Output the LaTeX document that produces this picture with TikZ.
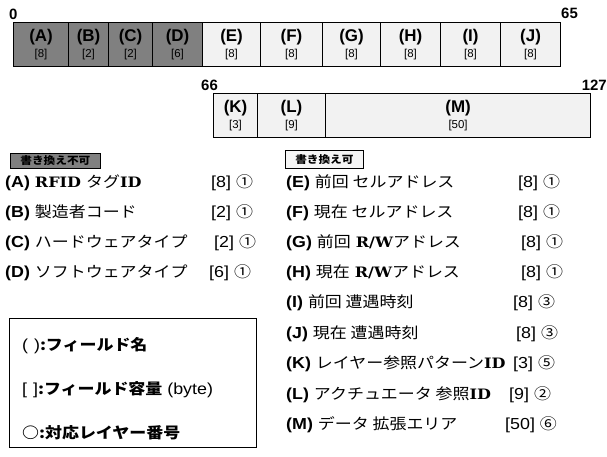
\documentclass[tikz,border=0pt]{standalone}
\usepackage{fontspec}
\usepackage{graphicx}
\setmainfont{Liberation Sans}
\newfontfamily\jpf{Noto Sans CJK JP}[Scale=0.95]
\newfontfamily\srff{DejaVu Serif}[Scale=0.9]
\newcommand\fld[1]{{\bfseries #1}}
\newcommand\rmb[1]{{\srff\bfseries #1}}
\newcommand\hs[1]{\scalebox{1.12}[1]{#1}}
\tikzset{
  cellbox/.style={draw=black, line width=1.1bp, anchor=north west, inner sep=0pt, align=center, minimum height=44bp},
  darkcell/.style={cellbox, fill=black!50},
  lightcell/.style={cellbox, fill=black!5},
  numlab/.style={font=\fontsize{15}{15}\selectfont\bfseries, inner sep=0pt},
  rowtxt/.style={anchor=west, inner sep=0pt, font=\fontsize{16}{18}\selectfont},
  valtxt/.style={anchor=west, inner sep=0pt, font=\fontsize{16}{18}\selectfont},
  legtxt/.style={anchor=west, inner sep=0pt, font=\fontsize{16}{18}\selectfont},
  tagbox/.style={draw=black, line width=0.8bp, inner sep=0pt, anchor=north west, font=\fontsize{11}{11}\selectfont\jpf\bfseries}
}
\newcommand\celltxt[2]{{\fontsize{17}{17}\selectfont\bfseries #1}\\[4bp]{\fontsize{11.5}{12}\selectfont #2}}
\begin{document}
\begin{tikzpicture}[x=1bp,y=-1bp]
\useasboundingbox (0,0) rectangle (607,457);
% top row
\node[darkcell, minimum width=55bp] (cA) at (13,22) {\celltxt{(A)}{[8]}};
\node[darkcell, minimum width=40bp] (cB) at (68,22) {\celltxt{(B)}{[2]}};
\node[darkcell, minimum width=44bp] (cC) at (108,22) {\celltxt{(C)}{[2]}};
\node[darkcell, minimum width=50bp] (cD) at (152,22) {\celltxt{(D)}{[6]}};
\node[lightcell, minimum width=58bp] (cE) at (202,22) {\celltxt{(E)}{[8]}};
\node[lightcell, minimum width=62bp] (cF) at (260,22) {\celltxt{(F)}{[8]}};
\node[lightcell, minimum width=58bp] (cG) at (322,22) {\celltxt{(G)}{[8]}};
\node[lightcell, minimum width=60bp] (cH) at (380,22) {\celltxt{(H)}{[8]}};
\node[lightcell, minimum width=60bp] (cI) at (440,22) {\celltxt{(I)}{[8]}};
\node[lightcell, minimum width=60bp] (cJ) at (500,22) {\celltxt{(J)}{[8]}};
\node[numlab, anchor=south west] (n0) at (9,20) {0};
\node[numlab, anchor=south west] (n65) at (561,19) {65};
% second row
\node[lightcell, minimum width=44bp] (cK) at (213,93) {\celltxt{(K)}{[3]}};
\node[lightcell, minimum width=68bp] (cL) at (257,93) {\celltxt{(L)}{[9]}};
\node[lightcell, minimum width=265bp] (cM) at (325,93) {\celltxt{(M)}{[50]}};
\node[numlab, anchor=south west] (n66) at (201,91) {66};
\node[numlab, anchor=south east] (n127) at (607,91) {127};
% tag boxes
\node[tagbox, fill=black!50, minimum width=90bp, minimum height=15bp] (tagno) at (10,153) {\hs{書き換え不可}};
\node[tagbox, fill=black!4, minimum width=78bp, minimum height=18bp] (tagyes) at (285,150) {\hs{書き換え可}};
% left list
\node[rowtxt] (tA) at (5,183) {\hs{\fld{(A)} \rmb{RFID} {\jpf タグ}\rmb{ID}}};
\node[rowtxt] (tB) at (5,213) {\hs{\fld{(B)} {\jpf 製造者コード}}};
\node[rowtxt] (tC) at (5,243) {\hs{\fld{(C)} {\jpf ハードウェアタイプ}}};
\node[rowtxt] (tD) at (5,273) {\hs{\fld{(D)} {\jpf ソフトウェアタイプ}}};
\node[valtxt] (vA) at (211,183) {\hs{[8] {\jpf ①}}};
\node[valtxt] (vB) at (211,213) {\hs{[2] {\jpf ①}}};
\node[valtxt] (vC) at (214,243) {\hs{[2] {\jpf ①}}};
\node[valtxt] (vD) at (209,273) {\hs{[6] {\jpf ①}}};
% right list
\node[rowtxt] (tE) at (286,183) {\hs{\fld{(E)} {\jpf 前回 セルアドレス}}};
\node[rowtxt] (tF) at (286,213) {\hs{\fld{(F)} {\jpf 現在 セルアドレス}}};
\node[rowtxt] (tG) at (286,243) {\hs{\fld{(G)} {\jpf 前回} \rmb{R/W}{\jpf アドレス}}};
\node[rowtxt] (tH) at (286,273) {\hs{\fld{(H)} {\jpf 現在} \rmb{R/W}{\jpf アドレス}}};
\node[rowtxt] (tI) at (286,303) {\hs{\fld{(I)} {\jpf 前回 遭遇時刻}}};
\node[rowtxt] (tJ) at (286,334) {\hs{\fld{(J)} {\jpf 現在 遭遇時刻}}};
\node[rowtxt] (tK) at (286,364) {\hs{\fld{(K)} {\jpf レイヤー参照パターン}\rmb{ID}}};
\node[rowtxt] (tL) at (286,395) {\hs{\fld{(L)} {\jpf アクチュエータ 参照}\rmb{ID}}};
\node[rowtxt] (tM) at (286,425) {\hs{\fld{(M)} {\jpf データ 拡張エリア}}};
\node[valtxt] (vE) at (518,183) {\hs{[8] {\jpf ①}}};
\node[valtxt] (vF) at (518,213) {\hs{[8] {\jpf ①}}};
\node[valtxt] (vG) at (521,243) {\hs{[8] {\jpf ①}}};
\node[valtxt] (vH) at (521,273) {\hs{[8] {\jpf ①}}};
\node[valtxt] (vI) at (513,303) {\hs{[8] {\jpf ③}}};
\node[valtxt] (vJ) at (516,334) {\hs{[8] {\jpf ③}}};
\node[valtxt] (vK) at (513,364) {\hs{[3] {\jpf ⑤}}};
\node[valtxt] (vL) at (509,395) {\hs{[9] {\jpf ②}}};
\node[valtxt] (vM) at (505,425) {\hs{[50] {\jpf ⑥}}};
% legend
\node[draw=black, line width=0.9bp, anchor=north west, minimum width=247bp, minimum height=129bp, inner sep=0pt] (legend) at (9,318) {};
\node[legtxt] (l1) at (22,346) {\hs{(\,\,){\jpf\bfseries :フィールド名}}};
\node[legtxt] (l2) at (22,390) {\hs{[\,\,]{\jpf\bfseries :フィールド容量} (byte)}};
\node[legtxt] (l3) at (22,433) {\hs{{\jpf\bfseries ○:対応レイヤー番号}}};
\end{tikzpicture}
\end{document}
